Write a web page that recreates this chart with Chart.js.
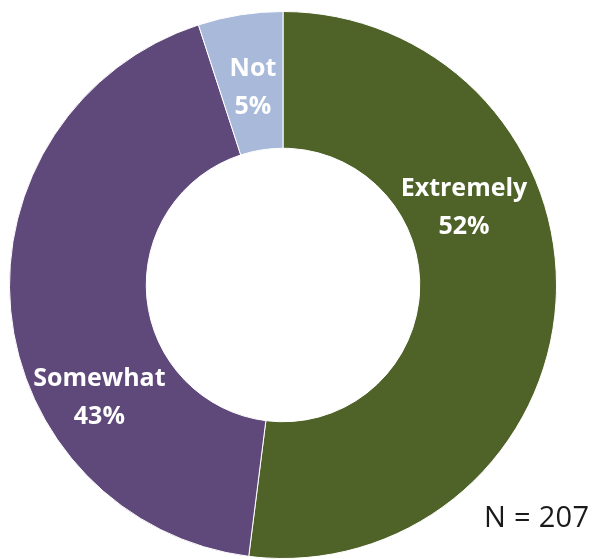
<!DOCTYPE html>
<html>
<head>
<meta charset="utf-8">
<script src="https://cdn.jsdelivr.net/npm/chart.js@4/dist/chart.umd.min.js"></script>
<style>
  html, body { margin: 0; padding: 0; background: #ffffff; }
  body { width: 597px; height: 559px; position: relative; overflow: hidden; }
  #wrap { position: absolute; left: 9px; top: 11px; width: 548px; height: 548px; }
  #note { position: absolute; left: 484px; top: 496px; font-family: "Open Sans", sans-serif; font-size: 29px; color: #1a1a1a; white-space: nowrap; letter-spacing: 0.3px; }
</style>
</head>
<body>
<div id="wrap"><canvas id="c"></canvas></div>
<div id="note">N = 207</div>
<script>
const categories = ["Extremely", "Somewhat", "Not"];
const values = [52, 43, 5];
const colors = ["#4F6228", "#5F497A", "#A9B9DA"];
// label placement (angle in degrees from top clockwise, radius fraction of ring midpoint)
const labelAngles = [66.8, 238.5, -8.7];
const labelRadii = [0.96, 1.05, 0.97];

const labelPlugin = {
  id: 'sliceLabels',
  afterDatasetsDraw(chart) {
    const ctx = chart.ctx;
    const meta = chart.getDatasetMeta(0);
    ctx.save();
    ctx.fillStyle = '#ffffff';
    ctx.font = 'bold 25px "Open Sans", sans-serif';
    ctx.textAlign = 'center';
    ctx.textBaseline = 'middle';
    meta.data.forEach((arc, i) => {
      const p = arc.getProps(['x', 'y', 'innerRadius', 'outerRadius'], true);
      const r = (p.innerRadius + p.outerRadius) / 2 * labelRadii[i];
      const a = labelAngles[i] * Math.PI / 180;
      const cx = p.x + r * Math.sin(a);
      const cy = p.y - r * Math.cos(a);
      ctx.fillText(categories[i], cx, cy - 19);
      ctx.fillText(values[i] + '%', cx, cy + 19);
    });
    ctx.restore();
  }
};

new Chart(document.getElementById('c'), {
  type: 'doughnut',
  data: {
    labels: categories,
    datasets: [{
      data: values,
      backgroundColor: colors,
      borderColor: '#ffffff',
      borderWidth: 1
    }]
  },
  options: {
    responsive: true,
    maintainAspectRatio: false,
    animation: false,
    cutout: '50%',
    layout: { padding: 0 },
    plugins: { legend: { display: false }, tooltip: { enabled: false } }
  },
  plugins: [labelPlugin]
});
</script>
</body>
</html>
